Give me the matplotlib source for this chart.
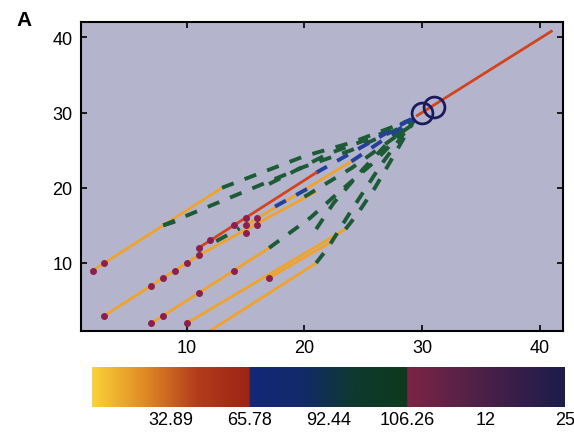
import matplotlib
matplotlib.use('Agg')
import matplotlib.pyplot as plt
import numpy as np
from matplotlib.colors import LinearSegmentedColormap

plt.rcParams['font.family'] = ['Liberation Sans', 'DejaVu Sans']

# solid (orange) parts of the trajectories
orange_paths = [
    [(2, 9), (13, 20)],
    [(3, 3), (11, 11), (21, 19.5)],
    [(15, 15), (24, 23.5)],
    [(7, 2), (17, 12)],
    [(10, 2), (23.5, 14.5)],
    [(12, 1), (21, 10)],
    [(17, 8), (22.5, 13)],
]
red_paths = [
    [(11, 12), (21, 22)],
    [(29.6, 29.6), (41, 40.8)],
]
# dashed parts converging on the fixed point
green_paths = [
    [(13, 20), (20, 24.2), (24, 26), (29.2, 29.1)],
    [(8, 15), (20, 22.8), (24, 25), (29.2, 28.7)],
    [(8, 15), (9.2, 15.6)],
    [(12.5, 12.9), (14.5, 14.6)],
    [(20, 18.8), (24, 22.6), (29.2, 28.4)],
    [(17, 12), (20.5, 16), (23, 19.5), (26, 23.5), (29.2, 28.8)],
    [(23.5, 14.5), (24.5, 16.5), (26, 20), (27.5, 24), (29.3, 28.9)],
    [(21, 10), (22, 12), (24, 17), (26.5, 23), (29.3, 29)],
    [(21, 14.5), (22.5, 18), (25, 22.5), (28.5, 28.3)],
    [(17, 20.5), (22, 24.5), (26, 26.8), (28.8, 28.9)],
]
blue_paths = [
    [(21, 22), (29.5, 29.5)],
    [(24, 23.5), (29.4, 29.2)],
    [(17.5, 17.5), (21, 20.5)],
]
dots_x = [2, 3, 3, 7, 8, 9, 10, 11, 11, 12, 14, 15, 16, 15, 16, 15, 7, 8, 11, 14, 10, 17]
dots_y = [9, 10, 3, 7, 8, 9, 10, 11, 12, 13, 15, 16, 16, 15, 15, 14, 2, 3, 6, 9, 2, 8]
circles_x = [30, 31]
circles_y = [30, 30.8]

cbar_labels = ['32.89', '65.78', '92.44', '106.26', '12', '25']
cbar_pos = [0.5, 1, 1.5, 2, 2.5, 3]

orange = '#f0a32a'
green = '#1d5a36'
blue = '#22409c'
red = '#d2441c'
dotc = '#8e1f4c'

fig = plt.figure(figsize=(5.74, 4.35), dpi=100)
ax = fig.add_axes([0.141, 0.2375, 0.84, 0.709])
ax.set_facecolor('#b4b5cc')

for p in orange_paths:
    p = np.array(p)
    ax.plot(p[:, 0], p[:, 1], color=orange, lw=2.0, solid_capstyle='butt', zorder=2)
for p in green_paths:
    p = np.array(p)
    ax.plot(p[:, 0], p[:, 1], color=green, lw=2.8, dashes=(3.2, 3.0), zorder=3)
for p in blue_paths:
    p = np.array(p)
    ax.plot(p[:, 0], p[:, 1], color=blue, lw=2.8, dashes=(3.2, 3.0), zorder=3)
for p in red_paths:
    p = np.array(p)
    ax.plot(p[:, 0], p[:, 1], color=red, lw=2.0, zorder=4)
ax.plot(dots_x, dots_y, 'o', color=dotc, ms=4, zorder=5)
ax.plot(circles_x, circles_y, 'o', mfc='none', mec='#1c1a5e', mew=2.0, ms=15, zorder=6)

ax.set_xlim(1, 42)
ax.set_ylim(1, 42)
ax.set_xticks([10, 20, 30, 40])
ax.set_yticks([10, 20, 30, 40])
ax.tick_params(direction='in', top=True, right=True, labelsize=13, length=4, width=1.2, pad=6)
for s in ax.spines.values():
    s.set_linewidth(1.5)

fig.text(0.028, 0.94, 'A', fontsize=15, fontweight='bold')

# colorbar made of three gradients
seg1 = LinearSegmentedColormap.from_list('s1', ['#fbd238', '#e08a24', '#b43c1c', '#9c2414'])
seg2 = LinearSegmentedColormap.from_list('s2', ['#12287a', '#122a6a', '#0e3a2e', '#0d3a1e'])
seg3 = LinearSegmentedColormap.from_list('s3', ['#7c2444', '#4a2048', '#1c1c4c'])
t = np.linspace(0, 1, 200)
img = np.vstack([seg1(t)[:, :3], seg2(t)[:, :3], seg3(t)[:, :3]])[None, :, :]
cax = fig.add_axes([0.160, 0.063, 0.824, 0.091])
cax.imshow(img, aspect='auto', extent=[0, 3, 0, 1])
cax.set_xlim(0, 3)
cax.set_yticks([])
cax.set_xticks(cbar_pos)
cax.set_xticklabels(cbar_labels)
cax.tick_params(length=0, labelsize=13, pad=3)
for s in cax.spines.values():
    s.set_visible(False)

fig.savefig('out.png', dpi=100)
